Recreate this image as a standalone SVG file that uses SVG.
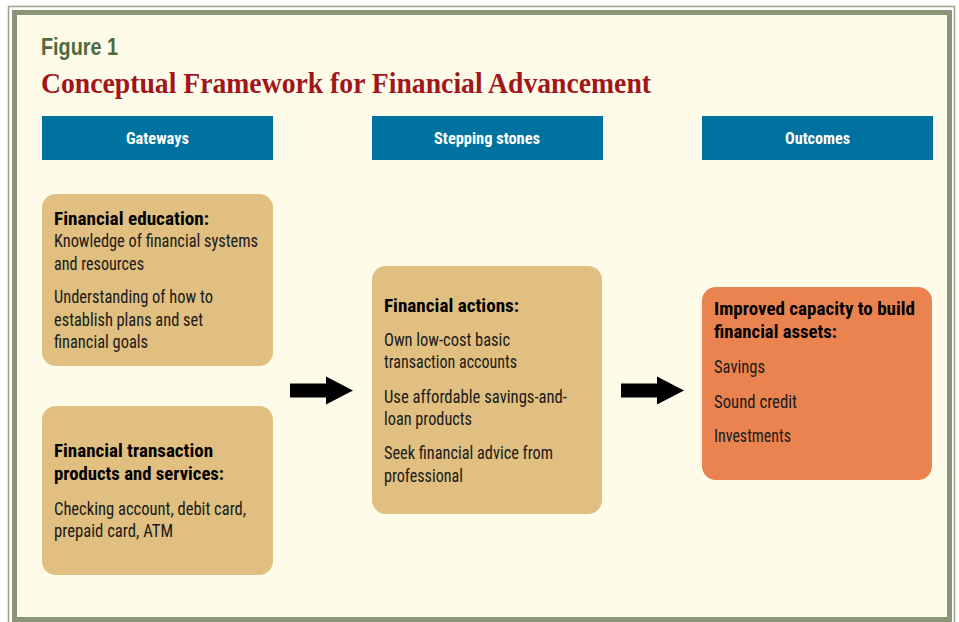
<svg xmlns="http://www.w3.org/2000/svg" width="959" height="622" viewBox="0 0 959 622">
<style>
.hdr{fill:#0072a0}
.tan{fill:#e0bf80}
.org{fill:#eb8350}
.t{font-family:"Liberation Sans Narrow","Roboto Condensed","DejaVu Sans Condensed","Liberation Sans",sans-serif;font-size:17.5px;fill:#1a1a1a}
.b{font-weight:bold;fill:#000}
.h{font-family:"Liberation Sans Narrow","Roboto Condensed","DejaVu Sans Condensed","Liberation Sans",sans-serif;font-size:16px;font-weight:bold;fill:#fff}
</style>
<defs>
<path id="arrow" d="M0,-7 H36 V-14 L63,0 L36,14 V7 H0 Z" fill="#000"/>
</defs>
<rect x="0" y="0" width="959" height="622" fill="#fff"/>
<rect x="8.5" y="6.5" width="946" height="620" fill="none" stroke="#9aa28a" stroke-width="1.5"/>
<rect x="14.5" y="12.5" width="935" height="607" fill="#fffbe9" stroke="#8a9478" stroke-width="5"/>
<g id="title">
<text x="41" y="55" font-family="'Liberation Sans Narrow','Liberation Sans',sans-serif" font-weight="bold" font-size="23" fill="#4f6a3e" textLength="77" lengthAdjust="spacingAndGlyphs">Figure 1</text>
<text x="41" y="93" font-family="'Liberation Serif',serif" font-weight="bold" font-size="30" fill="#a0161b" textLength="610" lengthAdjust="spacingAndGlyphs">Conceptual Framework for Financial Advancement</text>
</g>
<g id="hdr-gateways">
<rect class="hdr" x="42" y="116" width="231" height="44"/>
<text class="h" x="126" y="144" textLength="63" lengthAdjust="spacingAndGlyphs">Gateways</text>
</g>
<g id="hdr-stepping">
<rect class="hdr" x="372" y="116" width="231" height="44"/>
<text class="h" x="434" y="144" textLength="106" lengthAdjust="spacingAndGlyphs">Stepping stones</text>
</g>
<g id="hdr-outcomes">
<rect class="hdr" x="702" y="116" width="231" height="44"/>
<text class="h" x="785" y="144" textLength="65" lengthAdjust="spacingAndGlyphs">Outcomes</text>
</g>
<g id="node-education">
<rect class="tan" x="42" y="194" width="231" height="172" rx="14"/>
<text class="t b" x="54" y="225" textLength="155" lengthAdjust="spacingAndGlyphs">Financial education:</text>
<text class="t" x="54" y="247" textLength="204" lengthAdjust="spacingAndGlyphs">Knowledge of financial systems</text>
<text class="t" x="54" y="270" textLength="90" lengthAdjust="spacingAndGlyphs">and resources</text>
<text class="t" x="54" y="303" textLength="159" lengthAdjust="spacingAndGlyphs">Understanding of how to</text>
<text class="t" x="54" y="326" textLength="149" lengthAdjust="spacingAndGlyphs">establish plans and set</text>
<text class="t" x="54" y="348" textLength="94" lengthAdjust="spacingAndGlyphs">financial goals</text>
</g>
<g id="node-transaction">
<rect class="tan" x="42" y="406" width="231" height="169" rx="14"/>
<text class="t b" x="54" y="457" textLength="159" lengthAdjust="spacingAndGlyphs">Financial transaction</text>
<text class="t b" x="54" y="480" textLength="170" lengthAdjust="spacingAndGlyphs">products and services:</text>
<text class="t" x="54" y="515" textLength="192" lengthAdjust="spacingAndGlyphs">Checking account, debit card,</text>
<text class="t" x="54" y="537" textLength="119" lengthAdjust="spacingAndGlyphs">prepaid card, ATM</text>
</g>
<g id="node-actions">
<rect class="tan" x="372" y="266" width="230" height="248" rx="14"/>
<text class="t b" x="384" y="312" textLength="135" lengthAdjust="spacingAndGlyphs">Financial actions:</text>
<text class="t" x="384" y="346" textLength="126" lengthAdjust="spacingAndGlyphs">Own low-cost basic</text>
<text class="t" x="384" y="368" textLength="133" lengthAdjust="spacingAndGlyphs">transaction accounts</text>
<text class="t" x="384" y="403" textLength="183" lengthAdjust="spacingAndGlyphs">Use affordable savings-and-</text>
<text class="t" x="384" y="425" textLength="88" lengthAdjust="spacingAndGlyphs">loan products</text>
<text class="t" x="384" y="459" textLength="169" lengthAdjust="spacingAndGlyphs">Seek financial advice from</text>
<text class="t" x="384" y="482" textLength="79" lengthAdjust="spacingAndGlyphs">professional</text>
</g>
<g id="node-outcomes">
<rect class="org" x="702" y="287" width="230" height="193" rx="14"/>
<text class="t b" x="714" y="315" textLength="201" lengthAdjust="spacingAndGlyphs">Improved capacity to build</text>
<text class="t b" x="714" y="338" textLength="123" lengthAdjust="spacingAndGlyphs">financial assets:</text>
<text class="t" x="714" y="373" textLength="51" lengthAdjust="spacingAndGlyphs">Savings</text>
<text class="t" x="714" y="408" textLength="83" lengthAdjust="spacingAndGlyphs">Sound credit</text>
<text class="t" x="714" y="442" textLength="77" lengthAdjust="spacingAndGlyphs">Investments</text>
</g>
<g id="connectors">
<use href="#arrow" x="290" y="390.5"/>
<use href="#arrow" x="621" y="390.5"/>
</g>
</svg>
